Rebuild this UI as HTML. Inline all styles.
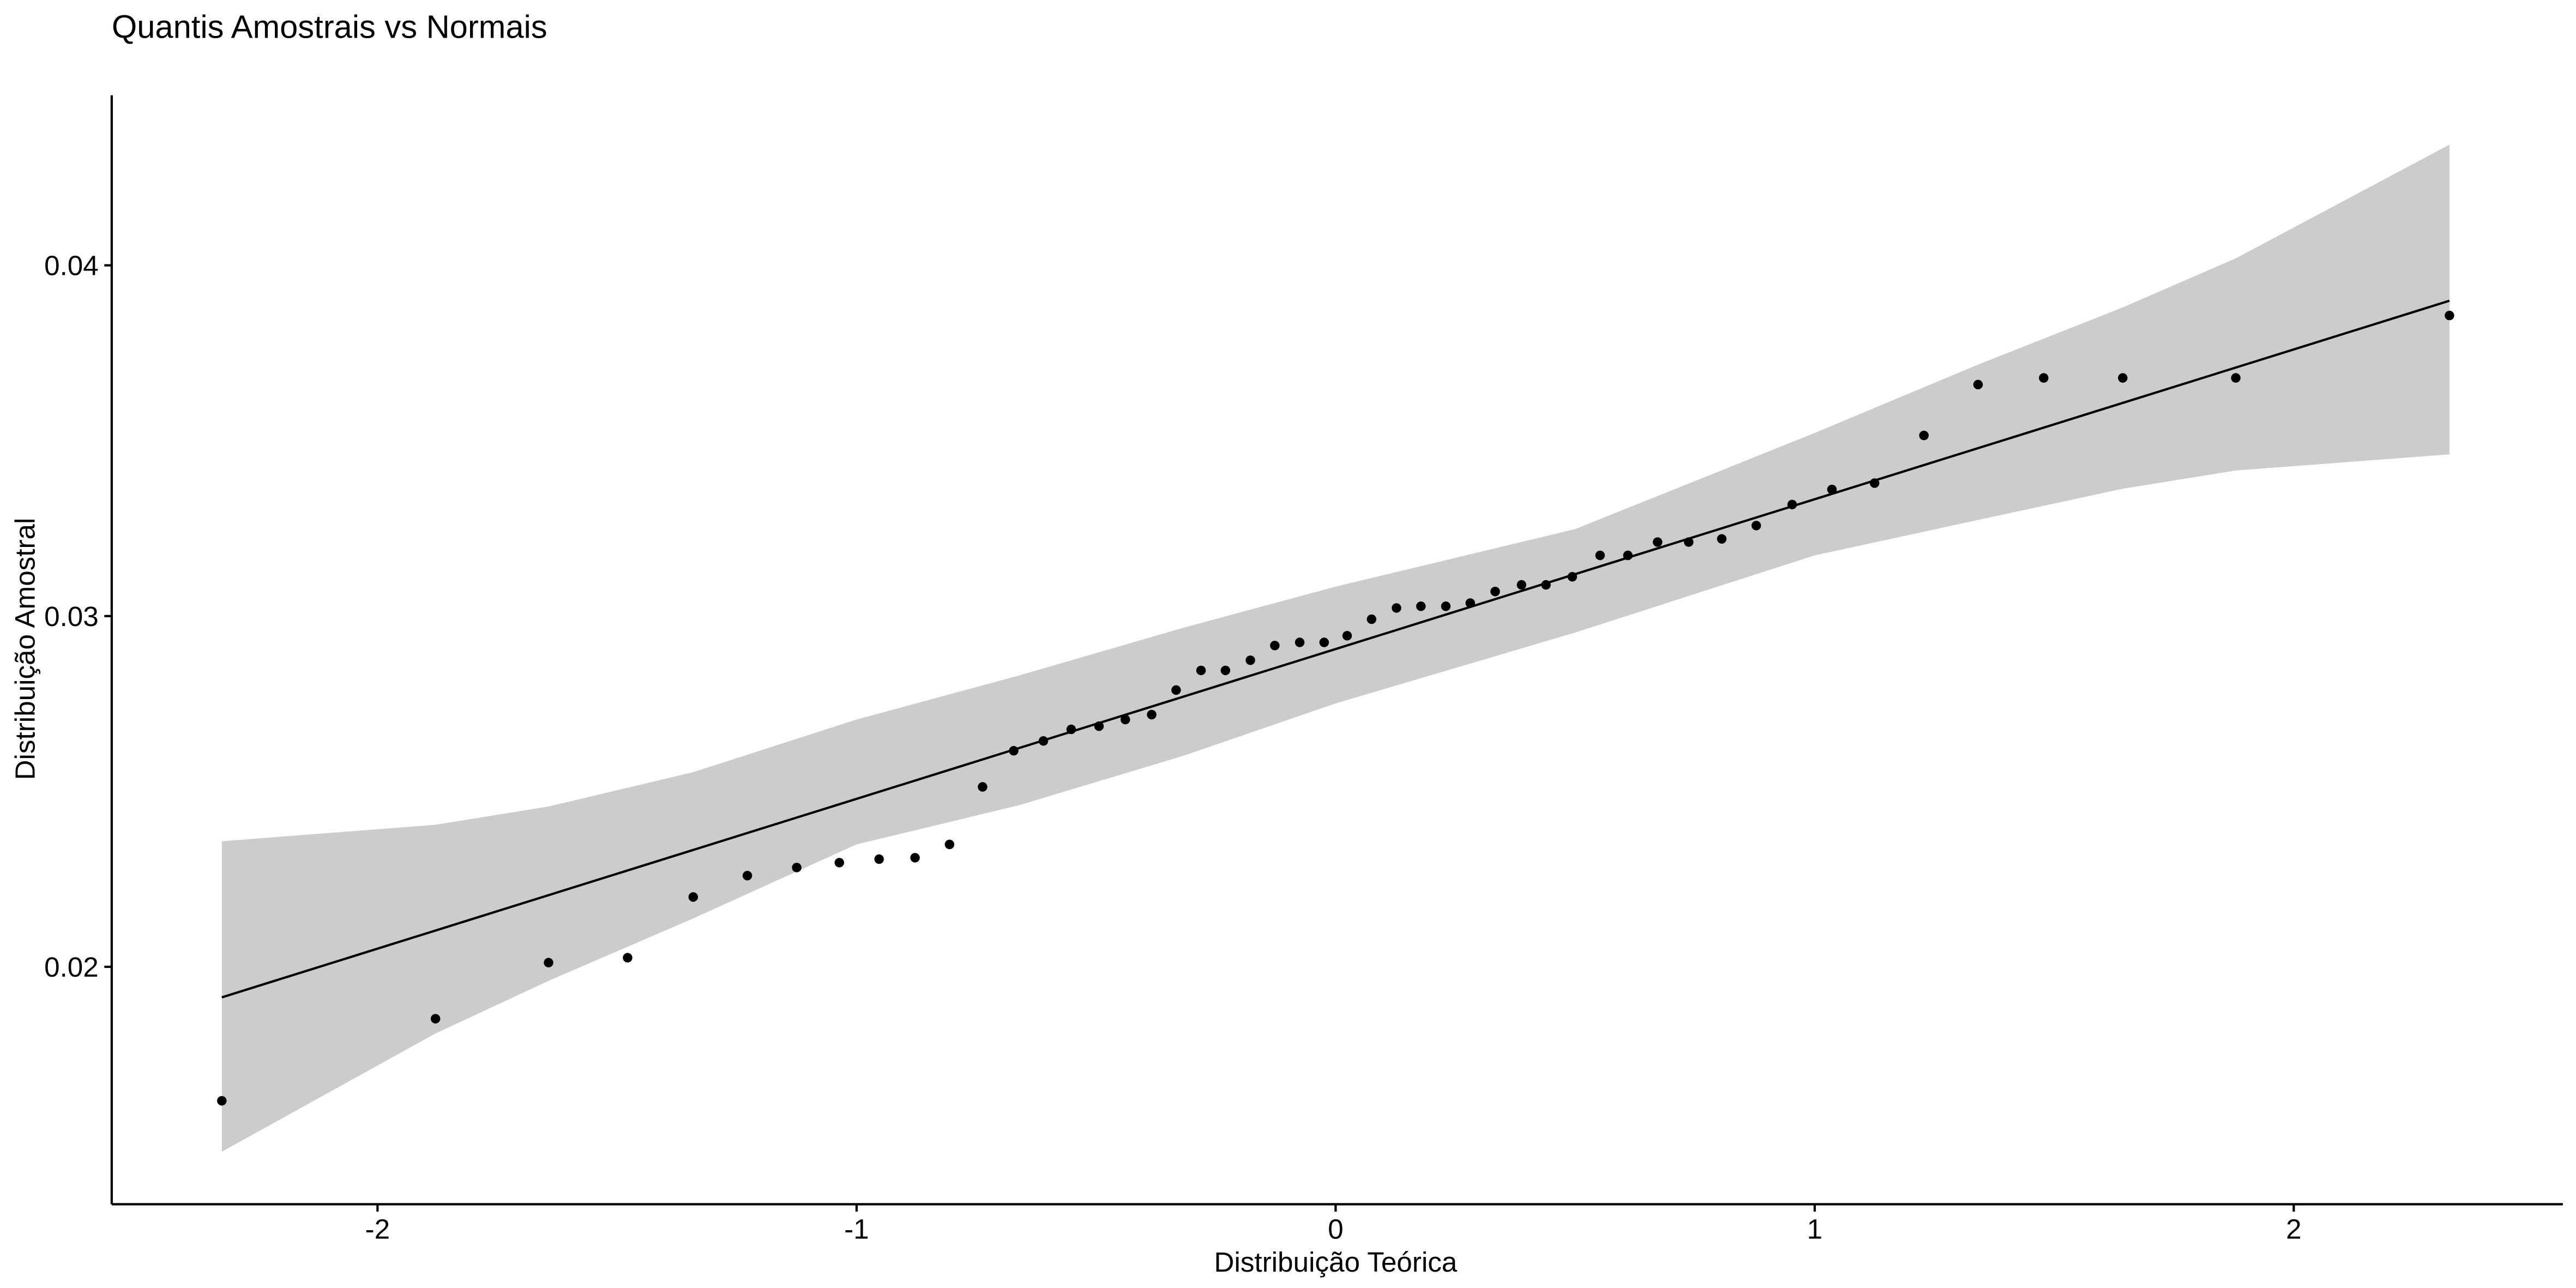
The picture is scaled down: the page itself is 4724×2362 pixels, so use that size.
<!DOCTYPE html>
<html><head><meta charset="utf-8"><style>
html,body{margin:0;padding:0;background:#fff;}
svg{display:block;font-family:"Liberation Sans",Arial,sans-serif;}
</style></head><body>
<svg id="chart" width="4724" height="2362" viewBox="0 0 1568 784" xmlns="http://www.w3.org/2000/svg">
<rect width="1568" height="784" fill="#fff"/>
<text x="68" y="23" font-size="19.8" fill="#000">Quantis Amostrais vs Normais</text>
<g id="band"></g>
<g id="line"></g>
<g id="points"></g>
<line x1="68" y1="58" x2="68" y2="733" stroke="#000" stroke-width="1.4"/>
<line x1="68" y1="733" x2="1560" y2="733" stroke="#000" stroke-width="1.4"/>
<g id="xticks"></g>
<g id="yticks"></g>
<text x="813" y="774" font-size="17" text-anchor="middle">Distribuição Teórica</text>
<text transform="translate(21,395) rotate(-90)" font-size="17" text-anchor="middle">Distribuição Amostral</text>
</svg>
<script>
const sampleX=[-2.325,-1.879,-1.643,-1.478,-1.341,-1.228,-1.125,-1.036,-0.953,-0.878,-0.806,-0.737,-0.672,-0.610,-0.552,-0.494,-0.439,-0.384,-0.333,-0.281,-0.230,-0.178,-0.127,-0.075,-0.024,0.024,0.075,0.127,0.178,0.230,0.281,0.333,0.388,0.439,0.494,0.552,0.610,0.672,0.737,0.806,0.878,0.953,1.036,1.125,1.228,1.341,1.478,1.643,1.879,2.325];
const sampleY=[0.01618,0.01852,0.02012,0.02026,0.02199,0.0226,0.02283,0.02297,0.02307,0.02311,0.02349,0.02513,0.02616,0.02644,0.02677,0.02686,0.02705,0.02719,0.02789,0.02845,0.02845,0.02874,0.02916,0.02925,0.02925,0.02944,0.02991,0.03023,0.03028,0.03028,0.03037,0.0307,0.03089,0.03089,0.03112,0.03173,0.03173,0.03211,0.03211,0.0322,0.03258,0.03318,0.03361,0.03379,0.03515,0.0366,0.03679,0.03679,0.03679,0.03857];
const lineX=[-2.325,2.325];
const lineY=[0.01913,0.03899];
const bandX=[-2.325,-1.879,-1.643,-1.341,-1.0,-0.66,-0.317,0,0.5,1.0,1.341,1.643,1.879,2.325];
const bandUpper=[0.02358,0.02405,0.02457,0.02555,0.02705,0.02831,0.02967,0.03084,0.03248,0.03522,0.03717,0.03880,0.04020,0.04344];
const bandLower=[0.01473,0.01810,0.01960,0.02138,0.02349,0.02461,0.02602,0.02751,0.02953,0.03173,0.03274,0.03363,0.03415,0.03461];
const xTicks=[-2,-1,0,1,2];
const yTicks=[0.02,0.03,0.04];
const yTickLabels=["0.02","0.03","0.04"];
const sx=v=>813+v*291.6;
const sy=v=>375-(v-0.03)*21350;
const NS='http://www.w3.org/2000/svg';
function mk(t,a,p){const e=document.createElementNS(NS,t);for(const k in a)e.setAttribute(k,a[k]);p.appendChild(e);return e;}
let pts=bandX.map((x,i)=>sx(x)+','+sy(bandUpper[i]));
for(let i=bandX.length-1;i>=0;i--)pts.push(sx(bandX[i])+','+sy(bandLower[i]));
const poly=mk('polygon',{points:pts.join(' '),fill:'#cccccc'},document.getElementById('band'));


const ln=mk('line',{x1:sx(lineX[0]),y1:sy(lineY[0]),x2:sx(lineX[1]),y2:sy(lineY[1]),stroke:'#000','stroke-width':1.4},document.getElementById('line'));


const pg=document.getElementById('points');
sampleX.forEach((x,i)=>{const c=mk('circle',{cx:sx(x),cy:sy(sampleY[i]),r:2.9,fill:'#000'},pg);

});
const xg=document.getElementById('xticks');
xTicks.forEach(v=>{const l=mk('line',{x1:sx(v),y1:733,x2:sx(v),y2:737.5,stroke:'#000','stroke-width':1.4},xg);


const t=mk('text',{x:sx(v),y:754,'font-size':17,'text-anchor':'middle'},xg);t.textContent=String(v);

});
const yg=document.getElementById('yticks');
yTicks.forEach((v,i)=>{const l=mk('line',{x1:63.5,y1:sy(v),x2:68,y2:sy(v),stroke:'#000','stroke-width':1.4},yg);


const t=mk('text',{x:60,y:sy(v)+6,'font-size':17,'text-anchor':'end'},yg);t.textContent=yTickLabels[i];

});
</script>
</body></html>
